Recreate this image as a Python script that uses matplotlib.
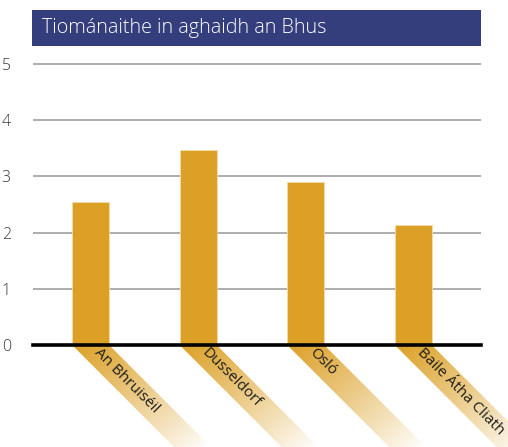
import matplotlib
matplotlib.use('Agg')
import matplotlib.pyplot as plt
import numpy as np
from matplotlib.patches import Polygon, Rectangle
from matplotlib.colors import to_rgb

categories = ['An Bhruiséil', 'Dusseldorf', 'Osló', 'Baile Átha Cliath']
values = [2.55, 3.47, 2.90, 2.13]
yticks = [0, 1, 2, 3, 4, 5]
title = 'Tiománaithe in aghaidh an Bhus'

plt.rcParams['font.family'] = ['Open Sans', 'DejaVu Sans']

W, H = 508, 447
fig = plt.figure(figsize=(W / 100, H / 100), dpi=100)

bg = fig.add_axes([0, 0, 1, 1], zorder=0)
bg.set_xlim(0, W)
bg.set_ylim(H, 0)
bg.axis('off')

ytop = 5.07
ax = fig.add_axes([33 / W, (H - 345) / H, (481 - 33) / W, (ytop * 56.2) / H], zorder=1)
ax.patch.set_alpha(0)
x = np.arange(len(categories))
bw = 0.344
gold = '#DCA026'
ax.bar(x, values, width=bw, color=gold, edgecolor='#F2DDA8', linewidth=0.6, zorder=3)
ax.set_xlim(-0.535, 3.63)
ax.set_ylim(0, ytop)
ax.set_yticks(yticks)
ax.yaxis.grid(True, color='#ADADAD', linewidth=1.4)
ax.set_axisbelow(True)
for s in ax.spines.values():
    s.set_visible(False)
ax.axhline(0, color='black', linewidth=2.6, zorder=4, clip_on=False)
ax.tick_params(axis='y', length=0, pad=16, labelsize=11.5, labelcolor='#3a3a3a')
for t in ax.get_yticklabels():
    t.set_fontweight('light')
ax.set_xticks([])


def pix(px, py):
    return bg.transData.inverted().transform(ax.transData.transform((px, py)))

rgb = np.array(to_rgb(gold))
L = 160
for i, lab in enumerate(categories):
    xl, y0 = pix(i - bw / 2, 0)
    xr, _ = pix(i + bw / 2, 0)
    poly = Polygon([(xl, y0), (xr, y0), (xr + L, y0 + L), (xl + L, y0 + L)],
                   closed=True, facecolor='none', edgecolor='none', transform=bg.transData)
    bg.add_patch(poly)
    nx, ny = 300, 300
    xs = np.linspace(xl, xr + L, nx)
    ys = np.linspace(y0, y0 + L, ny)
    X, Y = np.meshgrid(xs, ys)
    t = ((X - xl) * 0.55 + (Y - y0) * 0.65) / 140.0
    a = np.clip(1 - t, 0, 1) ** 0.9
    img = np.zeros((ny, nx, 4))
    img[..., :3] = rgb
    img[..., 3] = a
    im = bg.imshow(img, extent=(xl, xr + L, y0 + L, y0), origin='upper',
                   aspect='auto', interpolation='bilinear', zorder=1)
    im.set_clip_path(poly)
    cx = (xl + xr) / 2
    d = 6
    bg.text(cx + d, y0 + d, lab, rotation=-45, rotation_mode='anchor', ha='left', va='center',
            fontsize=11, color='#1e1e1e', zorder=5)

bg.add_patch(Rectangle((32, 10), 449, 36, facecolor='#343E7C', edgecolor='none', zorder=2))
bg.text(42, 28, title, color='white', fontsize=14.2, fontweight='light', va='center', ha='left', zorder=3)

fig.savefig('out.png', dpi=100)
